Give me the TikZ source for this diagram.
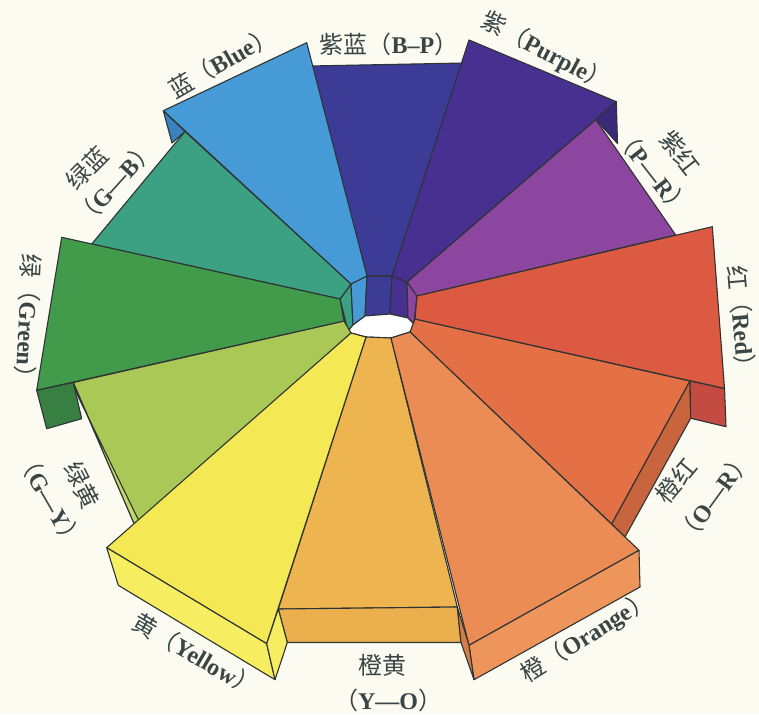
\documentclass[tikz,border=0pt]{standalone}
\usepackage{fontspec}
\setmainfont{Liberation Serif}
\newfontfamily\cjk{Noto Sans CJK SC}
\definecolor{bg}{HTML}{FBFBF2}
\definecolor{edge}{HTML}{2E3333}
\definecolor{txt}{HTML}{3A4646}
\definecolor{cB}{HTML}{469BD7}
\definecolor{cBs}{HTML}{3A82BE}
\definecolor{cBP}{HTML}{3C3C96}
\definecolor{cP}{HTML}{483091}
\definecolor{cPs}{HTML}{3A2878}
\definecolor{cPR}{HTML}{8C46A0}
\definecolor{cR}{HTML}{DC5A41}
\definecolor{cRs}{HTML}{C34B41}
\definecolor{cOR}{HTML}{E47046}
\definecolor{cORs}{HTML}{C8643E}
\definecolor{cO}{HTML}{EB8C55}
\definecolor{cOf}{HTML}{EE955C}
\definecolor{cOs}{HTML}{D67C48}
\definecolor{cYO}{HTML}{EEB450}
\definecolor{cYOf}{HTML}{EBAF4E}
\definecolor{cY}{HTML}{F5E855}
\definecolor{cYf}{HTML}{F6EE60}
\definecolor{cGY}{HTML}{AAC855}
\definecolor{cGYs}{HTML}{C2D869}
\definecolor{cG}{HTML}{419B4B}
\definecolor{cGs}{HTML}{387F42}
\definecolor{cGB}{HTML}{3CA082}
\newcommand\zh[1]{{\cjk #1}}
\newcommand\la[1]{{\bfseries #1}}
\begin{document}
\begin{tikzpicture}[x=1pt,y=-1pt,
  face/.style={draw=edge, line width=1.1pt, line join=round},
  lab/.style={text=txt, inner sep=0pt, font=\fontsize{24}{28}\selectfont}]
\useasboundingbox (0,0) rectangle (759,714);
\fill[bg] (0,0) rectangle (759,714);
% rim of the central well
\coordinate (V0) at (340,299);
\coordinate (V1) at (351,284);
\coordinate (V2) at (367,276);
\coordinate (V3) at (392,276);
\coordinate (V4) at (407,282);
\coordinate (V5) at (417,296);
\coordinate (V6) at (415,319);
\coordinate (V7) at (410,332);
\coordinate (V8) at (391,338);
\coordinate (V9) at (366,337);
\coordinate (V10) at (351,333);
\coordinate (V11) at (344,321);
% floor of the well
\coordinate (F0) at (348,331);
\coordinate (F1) at (353,325);
\coordinate (F2) at (365,316);
\coordinate (F3) at (390,314);
\coordinate (F4) at (408,318);
\coordinate (F5) at (414,324);
% well
\filldraw[face, fill=white] (V0)--(V1)--(V2)--(V3)--(V4)--(V5)--(V6)--(V7)--(V8)--(V9)--(V10)--(V11)--cycle;
\filldraw[face, fill=cG] (V11)--(V0)--(F0)--cycle;
\filldraw[face, fill=cGB] (V0)--(V1)--(F1)--(F0)--cycle;
\filldraw[face, fill=cB] (V1)--(V2)--(F2)--(F1)--cycle;
\filldraw[face, fill=cBP] (V2)--(V3)--(F3)--(F2)--cycle;
\filldraw[face, fill=cP] (V3)--(V4)--(F4)--(F3)--cycle;
\filldraw[face, fill=cPR] (V4)--(V5)--(F5)--(F4)--cycle;
\filldraw[face, fill=cR] (V5)--(V6)--(F5)--cycle;
\filldraw[face, fill=white] (F0)--(F1)--(F2)--(F3)--(F4)--(F5)--(V7)--(V8)--(V9)--(V10)--cycle;
% back segments
\filldraw[face, fill=cBP] (V2)--(310,66)--(465,63)--(V3)--cycle;
\filldraw[face, fill=cGB] (V0)--(91.7,244)--(185,131.5)--(V1)--cycle;
\filldraw[face, fill=cPR] (V4)--(595.7,119.5)--(675.7,235)--(V5)--cycle;
\filldraw[face, fill=cYO] (V9)--(278.3,609)--(457.3,607)--(V8)--cycle;
\filldraw[face, fill=cYOf] (278.3,609)--(287.3,642.5)--(461,642.5)--(457.3,607)--cycle;
\filldraw[face, fill=cOR] (V6)--(690,381)--(611.7,524)--(V7)--cycle;
\filldraw[face, fill=cORs] (690,381)--(690.7,418.3)--(625,537)--(611.7,524)--cycle;
\filldraw[face, fill=cGY] (V11)--(73.3,382.5)--(136,528)--(V10)--cycle;
\filldraw[face, fill=cGYs] (73.3,383)--(78.3,397)--(139,521)--(136,528)--cycle;
% blue, purple, red
\filldraw[face, fill=cB] (V1)--(163.3,110.7)--(306.7,42.7)--(V2)--cycle;
\filldraw[face, fill=cBs] (163.3,110.7)--(172,143)--(185,131.5)--cycle;
\filldraw[face, fill=cP] (V3)--(469,40)--(616.3,101.7)--(V4)--cycle;
\filldraw[face, fill=cPs] (616.3,101.7)--(617.5,143.5)--(595.7,119.5)--cycle;
\filldraw[face, fill=cR] (V5)--(712.3,226.7)--(724.5,388.5)--(V6)--cycle;
\filldraw[face, fill=cRs] (690,381)--(724.5,388.5)--(726,426.7)--(690.7,418.3)--cycle;
% green
\filldraw[face, fill=cG] (V0)--(61.7,237.3)--(36.7,390.3)--(V11)--cycle;
\filldraw[face, fill=cGs] (36.7,390.3)--(46.7,428.7)--(81.7,418.7)--(73.3,382.5)--cycle;
% orange
\filldraw[face, fill=cO] (V8)--(469,645.3)--(639,550.3)--(V7)--cycle;
\filldraw[face, fill=cOf] (469,645.3)--(474,679.7)--(640,587)--(639,550.3)--cycle;
\filldraw[face, fill=cOs] (457.3,607)--(469,645.3)--(474,679.7)--(461,642.5)--cycle;
% yellow
\filldraw[face, fill=cY] (V10)--(106.7,547.7)--(266.7,643.7)--(V9)--cycle;
\filldraw[face, fill=cYf] (106.7,547.7)--(118.3,585.3)--(275,679.7)--(266.7,643.7)--cycle;
\filldraw[face, fill=cYf] (266.7,643.7)--(275,679.7)--(287.3,642.5)--(278.3,609)--cycle;
% labels
\node[lab, rotate=30] (lB) at (222,62) {\zh{蓝（}\la{Blue}\zh{）}};
\node[lab] (lBP) at (389,44) {\zh{紫蓝（}\la{B–P}\zh{）}};
\node[lab, rotate=-28] (lP) at (546,52) {\zh{紫（}\la{Purple}\zh{）}};
\node[lab, rotate=-52] (lPRa) at (680,153) {\zh{紫红}};
\node[lab, rotate=-52] (lPRb) at (653,172) {\zh{（}\la{P—R}\zh{）}};
\node[lab, rotate=-85] (lR) at (742,322) {\zh{红（}\la{Red}\zh{）}};
\node[lab, rotate=50] (lORa) at (676,481) {\zh{橙红}};
\node[lab, rotate=54] (lORb) at (714,497) {\zh{（}\la{O—R}\zh{）}};
\node[lab, rotate=32] (lO) at (587,637) {\zh{橙（}\la{Orange}\zh{）}};
\node[lab] (lYOa) at (382,665) {\zh{橙黄}};
\node[lab] (lYOb) at (388,700) {\zh{（}\la{Y—O}\zh{）}};
\node[lab, rotate=-30] (lY) at (196,655) {\zh{黄（}\la{Yellow}\zh{）}};
\node[lab, rotate=-63] (lGYa) at (82,485) {\zh{绿黄}};
\node[lab, rotate=-60] (lGYb) at (50,500) {\zh{（}\la{G—Y}\zh{）}};
\node[lab, rotate=-93] (lG) at (28,322) {\zh{绿（}\la{Green}\zh{）}};
\node[lab, rotate=45] (lGBa) at (87,168) {\zh{绿蓝}};
\node[lab, rotate=48] (lGBb) at (115,183) {\zh{（}\la{G—B}\zh{）}};
\end{tikzpicture}
\end{document}
